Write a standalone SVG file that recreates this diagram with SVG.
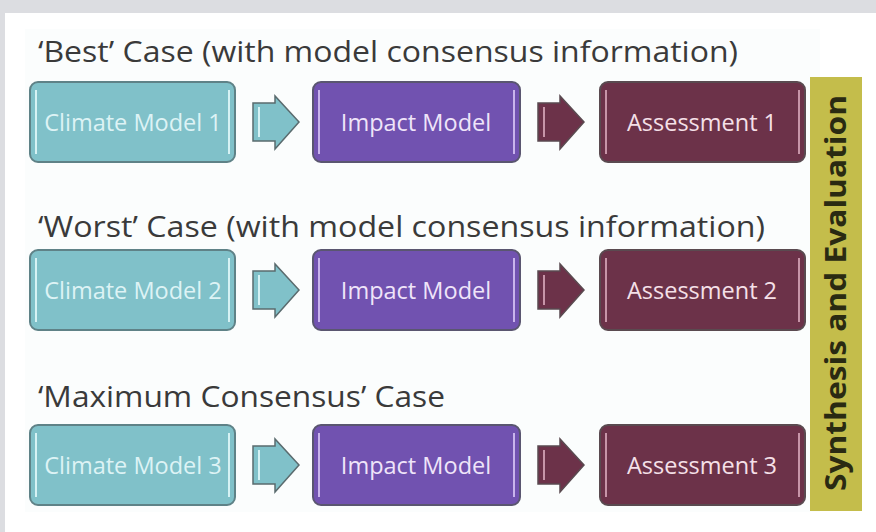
<svg xmlns="http://www.w3.org/2000/svg" width="876" height="532" viewBox="0 0 876 532">
<defs>
<style>
.title{font-family:"Open Sans","Liberation Sans",sans-serif;font-size:30px;fill:#3a3a3a}
.bt{font-family:"Open Sans","Liberation Sans",sans-serif;font-size:23.5px;text-anchor:middle}
.cm rect.b{fill:#80c1c9;stroke:#5f8287;stroke-width:2}
.im rect.b{fill:#7152b0;stroke:#5a5670;stroke-width:2}
.as rect.b{fill:#6c3249;stroke:#5a4a50;stroke-width:2}
.cm text{fill:#ddf3f5}
.im text{fill:#efe4f9}
.as text{fill:#f5e0e8}
.hl{stroke-width:2;fill:none}
.cm .hl{stroke:#d6f2f4}
.im .hl{stroke:#c9b4ec}
.as .hl{stroke:#c795a8}
.a1{fill:#80c1c9;stroke:#5a6b6e;stroke-width:1.5}
.a2{fill:#6c3249;stroke:#5a4a50;stroke-width:1.5}
.ah1{stroke:#d6f2f4;stroke-width:2}
.ah2{stroke:#c795a8;stroke-width:2}
</style>
<path id="arr" d="M0,-19 H22 V-26 L46,0 L22,27 V19 H0 Z"/>
</defs>
<rect x="0" y="0" width="876" height="532" fill="#dcdde1"/>
<rect x="5" y="13" width="871" height="519" fill="#ffffff"/>
<rect x="25" y="29" width="795" height="483" fill="#fbfdfd"/>

<g id="titles">
<text class="title" x="38" y="62" textLength="700" lengthAdjust="spacingAndGlyphs">‘Best’ Case (with model consensus information)</text>
<text class="title" x="38" y="237" textLength="727" lengthAdjust="spacingAndGlyphs">‘Worst’ Case (with model consensus information)</text>
<text class="title" x="38" y="407" textLength="407" lengthAdjust="spacingAndGlyphs">‘Maximum Consensus’ Case</text>
</g>

<g id="connectors">
<g transform="translate(253,122)"><use href="#arr" class="a1"/><line class="ah1" x1="6" y1="-15" x2="6" y2="15"/></g>
<g transform="translate(538,122)"><use href="#arr" class="a2"/><line class="ah2" x1="6" y1="-15" x2="6" y2="15"/></g>
<g transform="translate(253,290)"><use href="#arr" class="a1"/><line class="ah1" x1="6" y1="-15" x2="6" y2="15"/></g>
<g transform="translate(538,290)"><use href="#arr" class="a2"/><line class="ah2" x1="6" y1="-15" x2="6" y2="15"/></g>
<g transform="translate(253,465)"><use href="#arr" class="a1"/><line class="ah1" x1="6" y1="-15" x2="6" y2="15"/></g>
<g transform="translate(538,465)"><use href="#arr" class="a2"/><line class="ah2" x1="6" y1="-15" x2="6" y2="15"/></g>
</g>

<g id="climate1" class="cm"><rect class="b" x="30" y="82" width="205" height="80" rx="8"/><line class="hl" x1="36" y1="90" x2="36" y2="154"/><line class="hl" x1="229" y1="90" x2="229" y2="154"/><text class="bt" x="133" y="131">Climate Model 1</text></g>
<g id="impact1" class="im"><rect class="b" x="313" y="82" width="207" height="80" rx="8"/><line class="hl" x1="319" y1="90" x2="319" y2="154"/><line class="hl" x1="514" y1="90" x2="514" y2="154"/><text class="bt" x="416" y="131">Impact Model</text></g>
<g id="assess1" class="as"><rect class="b" x="600" y="82" width="205" height="80" rx="8"/><line class="hl" x1="606" y1="90" x2="606" y2="154"/><line class="hl" x1="799" y1="90" x2="799" y2="154"/><text class="bt" x="702" y="131">Assessment 1</text></g>

<g id="climate2" class="cm"><rect class="b" x="30" y="250" width="205" height="80" rx="8"/><line class="hl" x1="36" y1="258" x2="36" y2="322"/><line class="hl" x1="229" y1="258" x2="229" y2="322"/><text class="bt" x="133" y="299">Climate Model 2</text></g>
<g id="impact2" class="im"><rect class="b" x="313" y="250" width="207" height="80" rx="8"/><line class="hl" x1="319" y1="258" x2="319" y2="322"/><line class="hl" x1="514" y1="258" x2="514" y2="322"/><text class="bt" x="416" y="299">Impact Model</text></g>
<g id="assess2" class="as"><rect class="b" x="600" y="250" width="205" height="80" rx="8"/><line class="hl" x1="606" y1="258" x2="606" y2="322"/><line class="hl" x1="799" y1="258" x2="799" y2="322"/><text class="bt" x="702" y="299">Assessment 2</text></g>

<g id="climate3" class="cm"><rect class="b" x="30" y="425" width="205" height="80" rx="8"/><line class="hl" x1="36" y1="433" x2="36" y2="497"/><line class="hl" x1="229" y1="433" x2="229" y2="497"/><text class="bt" x="133" y="474">Climate Model 3</text></g>
<g id="impact3" class="im"><rect class="b" x="313" y="425" width="207" height="80" rx="8"/><line class="hl" x1="319" y1="433" x2="319" y2="497"/><line class="hl" x1="514" y1="433" x2="514" y2="497"/><text class="bt" x="416" y="474">Impact Model</text></g>
<g id="assess3" class="as"><rect class="b" x="600" y="425" width="205" height="80" rx="8"/><line class="hl" x1="606" y1="433" x2="606" y2="497"/><line class="hl" x1="799" y1="433" x2="799" y2="497"/><text class="bt" x="702" y="474">Assessment 3</text></g>

<g id="synthesis">
<rect x="810" y="77" width="52" height="434" fill="#c4bd4b"/>
<text x="0" y="0" transform="translate(846,293) rotate(-90)" text-anchor="middle" font-family="Open Sans, Liberation Sans, sans-serif" font-size="28" font-weight="700" fill="#2a2a12" textLength="396" lengthAdjust="spacingAndGlyphs">Synthesis and Evaluation</text>
</g>
</svg>
